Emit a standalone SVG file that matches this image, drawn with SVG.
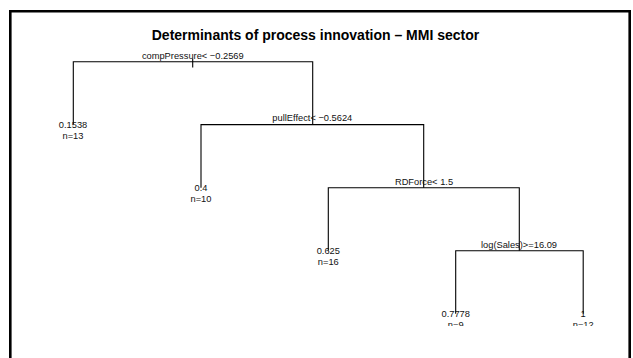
<svg xmlns="http://www.w3.org/2000/svg" width="633" height="358" viewBox="0 0 633 358">
<style>
.t{font-family:"Liberation Sans",Arial,sans-serif;font-size:9.3px;fill:#111;text-anchor:middle}
.ttl{font-family:"Liberation Sans",Arial,sans-serif;font-size:14px;font-weight:bold;fill:#000;text-anchor:middle}
.e{stroke:#000;stroke-width:1.1;fill:none}
</style>
<defs><clipPath id="plot"><rect x="0" y="0" width="633" height="326"/></clipPath></defs>
<rect x="0" y="0" width="633" height="358" fill="#fff"/>
<path d="M10.3,370 V11.3 H629.7 V370" fill="none" stroke="#000" stroke-width="2.6"/>
<text class="ttl" x="315.5" y="40">Determinants of process innovation – MMI sector</text>
<g id="connectors" clip-path="url(#plot)">
<path class="e" d="M192.7,59 V67.5"/>
<path class="e" d="M73.3,124.6 V61.7 H312.7 V124.6"/>
<path class="e" d="M201,187.7 V124.6 H423.7 V187.7"/>
<path class="e" d="M328.3,250.7 V187.7 H519.3 V250.7"/>
<path class="e" d="M455.7,313.8 V250.7 H583.2 V313.8"/>
</g>
<g id="n1"><text class="t" x="192.8" y="59.2">compPressure&lt; −0.2569</text></g>
<g id="n2"><text class="t" x="73" y="128">0.1538</text><text class="t" x="73" y="139">n=13</text></g>
<g id="n3"><text class="t" x="312.3" y="121.4">pullEffect&lt; −0.5624</text></g>
<g id="n6"><text class="t" x="201" y="190.5">0.4</text><text class="t" x="201" y="201.5">n=10</text></g>
<g id="n7"><text class="t" x="424" y="185.2">RDForce&lt; 1.5</text></g>
<g id="n14"><text class="t" x="328.3" y="253.5">0.625</text><text class="t" x="328.3" y="264.5">n=16</text></g>
<g id="n15"><text class="t" x="519" y="247.9">log(Sales)&gt;=16.09</text></g>
<g clip-path="url(#plot)">
<g id="n30"><text class="t" x="455.7" y="316.8">0.7778</text><text class="t" x="455.7" y="328">n=9</text></g>
<g id="n31"><text class="t" x="583.2" y="316.8">1</text><text class="t" x="583.2" y="328">n=12</text></g>
</g>
</svg>
